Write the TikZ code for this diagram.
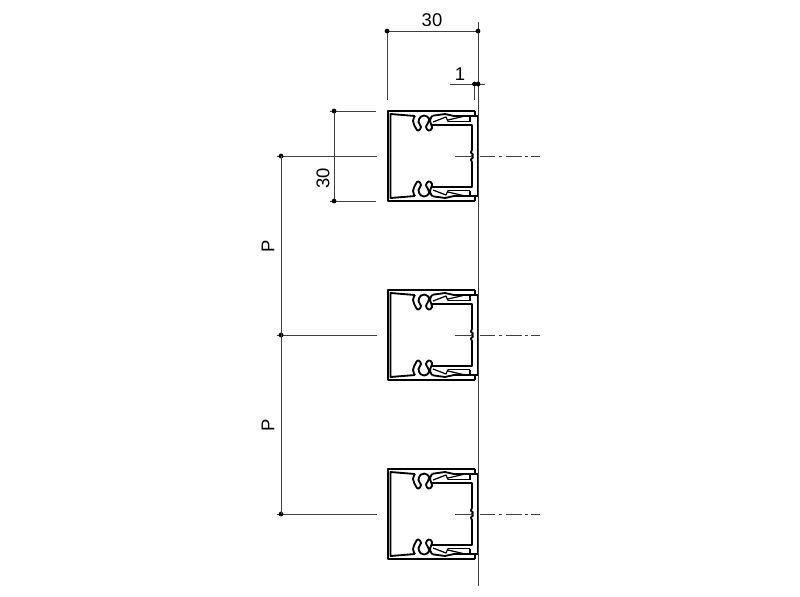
\documentclass[tikz,border=0pt]{standalone}
\usepackage{fontspec}
\setmainfont{Liberation Sans}
\tikzset{
  profile/.style={black,line width=0.7pt,line join=round},
  heavy/.style={black,line width=1.05pt,line join=round},
  dimline/.style={black!75,line width=0.5pt},
  dimtext/.style={font=\fontsize{10.5}{10.5}\selectfont,inner sep=0pt},
  dimdot/.style={circle,fill=black,inner sep=0pt,minimum size=2.7pt}
}
\begin{document}
\begin{tikzpicture}[x=0.02cm,y=-0.02cm]
\useasboundingbox (0,0) rectangle (800,596);

% three profiles, each one built from two mirrored halves
\foreach \cy in {156,335,514}{
\foreach \s in {1,-1}{
\begin{scope}[shift={(388,\cy)},yscale=\s]
\draw[heavy] (0,0)--(0,-45)--(87,-45);
\draw[profile] (87,-45)--(87,-40);
\draw[heavy] (2.5,0)--(2.5,-42)--(27,-40);
\draw[heavy] plot[smooth,tension=0.7] coordinates {(27,-40) (25,-35) (28,-27.5) (30.5,-25.5) (33,-29)
  (30.5,-34) (32.7,-39.3) (36.3,-40.5) (41,-37.5) (39.7,-32.5) (38,-29) (40.5,-25.5) (44,-28) (42,-36) (44.7,-40.3)};
\draw[heavy] (44.7,-40.3)--(57,-42)--(66,-40)--(90,-40);
\draw[profile] (45,-34)--(58,-39)--(60,-34.5);
\draw[profile] (60,-36)--(75,-39.5);
\draw[profile] (82,-40)--(82,-34.5);
\draw[heavy] (60,-34.5)--(82,-34.5);
\draw[heavy] (44,-31)--(84,-31)--(84,-6);
\draw[heavy] (84,-6)--(82.8,-3.5)--(85,-1.5)--(84,0);
\draw[heavy] (90,-40)--(90,0);
\end{scope}
}
}

% dimension 30 on top
\coordinate (topl) at (387,31);
\coordinate (topr) at (478,31);
\draw[dimline] (topl)--(387,100);
\draw[dimline] (478,22)--(478,586);
\draw[dimline] (topl)--(topr);
\node[dimdot] (topdl) at (topl) {};
\node[dimdot] (topdr) at (topr) {};
\node[dimtext] (topw) at (432,20.5) {30};

% dimension 1
\coordinate (onel) at (474.5,84);
\coordinate (oner) at (478,84);
\draw[dimline] (450,84)--(485,84);
\draw[dimline] (onel)--(474.5,100);
\node[dimdot] (onedl) at (onel) {};
\node[dimdot] (onedr) at (oner) {};
\node[dimtext] (onew) at (460,74) {1};

% dimension 30 on the left
\coordinate (sidet) at (334,111);
\coordinate (sideb) at (334,201);
\draw[dimline] (330,111)--(376,111);
\draw[dimline] (330,201)--(376,201);
\draw[dimline] (sidet)--(sideb);
\node[dimdot] (sidedt) at (sidet) {};
\node[dimdot] (sidedb) at (sideb) {};
\node[dimtext,rotate=90] (sidew) at (323,178) {30};

% pitch
\foreach \cy/\nm in {156/pa,335/pb,514/pc}{
\coordinate (\nm) at (281,\cy);
\draw[dimline] (277,\cy)--(377,\cy);
\node[dimdot] (dot\nm) at (\nm) {};
}
\draw[dimline] (pa)--(pc);
\node[dimtext,rotate=90] (pwa) at (268,246) {P};
\node[dimtext,rotate=90] (pwb) at (268,425) {P};

% centre lines
\foreach \cy in {156,335,514}{
\draw[dimline] (455,\cy)--(472,\cy);
\draw[dimline] (480,\cy)--(495,\cy);
\draw[dimline] (499,\cy)--(501.5,\cy);
\draw[dimline] (506,\cy)--(522,\cy);
\draw[dimline] (525,\cy)--(527.5,\cy);
\draw[dimline] (531,\cy)--(540,\cy);
}
\end{tikzpicture}
\end{document}
